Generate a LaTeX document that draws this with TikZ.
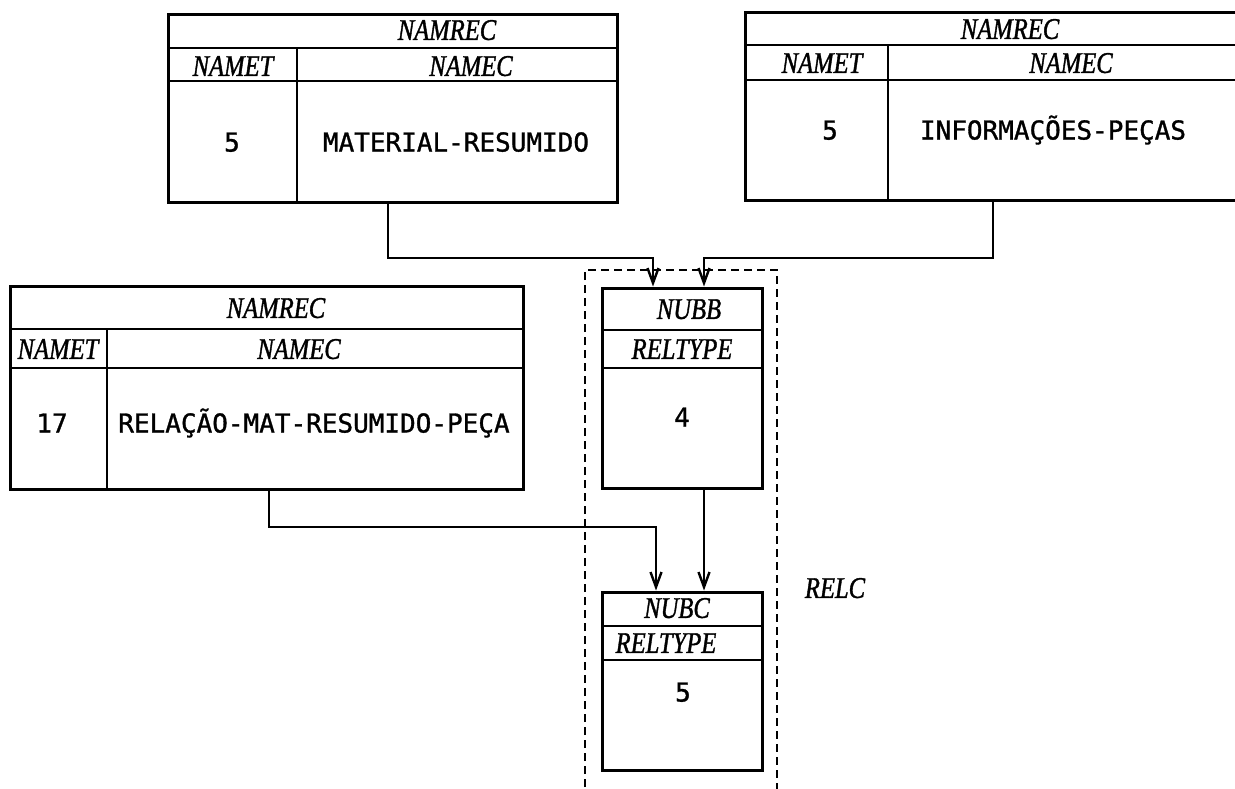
\documentclass[tikz,border=0pt]{standalone}
\usepackage{fontspec}
\newfontfamily\lblfont{Liberation Serif}[FakeStretch=0.82,FakeBold=1.2]
\newfontfamily\txtfont{DejaVu Sans Mono}[FakeBold=1.2]
\usetikzlibrary{arrows.meta,fit}
\begin{document}
\begin{tikzpicture}[x=0.5pt,y=-0.5pt,
  box/.style={draw, line width=1.5pt, inner sep=0pt},
  rule/.style={line width=1.2pt},
  lbl/.style={font=\lblfont\itshape\fontsize{15}{15}\selectfont, inner sep=0pt, text height=9.9pt, text depth=0pt},
  val/.style={font=\txtfont\fontsize{13}{13}\selectfont, inner sep=0pt, text height=9.5pt, text depth=0pt},
  conn/.style={line width=1.1pt},
  arr/.style={conn, -{Straight Barb[length=7.5pt,width=5.5pt,line width=1.2pt]}},
  grp/.style={line width=1pt, dash pattern=on 4pt off 2.5pt}]
\useasboundingbox (0,0) rectangle (1235,788);
\clip (0,0) rectangle (1235,788);

% ---- top-left table
\node[box, fit={(168,14) (617,202)}] (t1) {};
\draw[rule] (168,48) -- (617,48);
\draw[rule] (168,81) -- (617,81);
\draw[rule] (297,48) -- (297,202);
\node[lbl] (t1rec) at (447,30) {NAMREC};
\node[lbl] (t1t) at (233,66) {NAMET};
\node[lbl] (t1c) at (471,66) {NAMEC};
\node[val] (t1n) at (232,142) {5};
\node[val] (t1v) at (456,142) {MATERIAL-RESUMIDO};

% ---- top-right table
\node[box, fit={(745,12) (1250,200)}] (t2) {};
\draw[rule] (745,45) -- (1250,45);
\draw[rule] (745,80) -- (1250,80);
\draw[rule] (888,45) -- (888,200);
\node[lbl] (t2rec) at (1010,29) {NAMREC};
\node[lbl] (t2t) at (822,63) {NAMET};
\node[lbl] (t2c) at (1071,63) {NAMEC};
\node[val] (t2n) at (830,130) {5};
\node[val] (t2v) at (1053,130) {INFORMAÇÕES-PEÇAS};

% ---- left table
\node[box, fit={(10,286) (523,489)}] (t3) {};
\draw[rule] (10,329) -- (523,329);
\draw[rule] (10,368) -- (523,368);
\draw[rule] (107,329) -- (107,489);
\node[lbl] (t3rec) at (276,308) {NAMREC};
\node[lbl] (t3t) at (58,349) {NAMET};
\node[lbl] (t3c) at (299,349) {NAMEC};
\node[val] (t3n) at (52,423) {17};
\node[val] (t3v) at (314,423) {RELAÇÃO-MAT-RESUMIDO-PEÇA};

% ---- NUBB
\node[box, fit={(602,288) (762,488)}] (nubb) {};
\draw[rule] (602,330) -- (762,330);
\draw[rule] (602,368) -- (762,368);
\node[lbl] (nubbl) at (689,309) {NUBB};
\node[lbl] (nubbr) at (682,349) {RELTYPE};
\node[val] (nubbv) at (682,417) {4};

% ---- NUBC
\node[box, fit={(602,592) (762,770)}] (nubc) {};
\draw[rule] (602,626) -- (762,626);
\draw[rule] (602,660) -- (762,660);
\node[lbl] (nubcl) at (677,608) {NUBC};
\node[lbl] (nubcr) at (666,643) {RELTYPE};
\node[val] (nubcv) at (683,692) {5};

% ---- RELC group
\draw[grp] (585,800) -- (585,270) -- (777,270) -- (777,800);
\node[lbl] (relc) at (835,588) {RELC};

% ---- connectors
\coordinate (h1) at (0,258);
\coordinate (h3) at (0,527);
\coordinate (x1) at (388,0);
\coordinate (x2) at (993,0);
\coordinate (x3) at (269,0);
\coordinate (xa) at (653,0);
\coordinate (xb) at (704,0);
\coordinate (xc) at (656,0);
\draw[arr] (t1.south -| x1) |- (xa |- h1) -- (xa |- nubb.north);
\draw[arr] (t2.south -| x2) |- (xb |- h1) -- (xb |- nubb.north);
\draw[arr] (t3.south -| x3) |- (xc |- h3) -- (xc |- nubc.north);
\draw[arr] (nubb.south -| xb) -- (nubc.north -| xb);
\end{tikzpicture}
\end{document}
